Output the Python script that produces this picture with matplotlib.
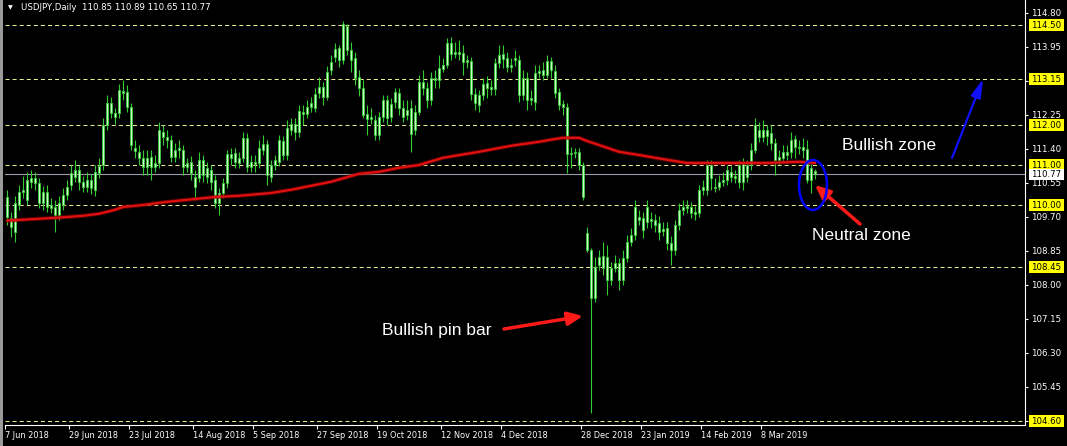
import numpy as np
import matplotlib
matplotlib.use('Agg')
import matplotlib.pyplot as plt
from matplotlib.patches import Rectangle, Ellipse
import matplotlib.transforms as mtransforms

plt.rcParams['lines.scale_dashes'] = False

# USDJPY daily candles, bar 0 = 7 Jun 2018
opens = [110.20, 109.68, 109.33, 110.00, 110.33, 110.13, 110.58, 110.68, 110.55, 110.05,
         110.33, 110.00, 109.95, 109.75, 110.00, 110.25, 110.50, 110.70, 110.88, 110.58,
         110.45, 110.63, 110.38, 110.80, 111.00, 112.00, 112.55, 112.30, 112.30, 112.85,
         112.83, 112.45, 111.43, 111.33, 111.18, 110.95, 111.20, 110.95, 111.05, 111.83,
         111.70, 111.63, 111.20, 111.38, 111.38, 110.95, 111.08, 110.70, 110.68, 111.13,
         110.93, 110.88, 110.63, 110.05, 110.30, 110.55, 111.28, 111.30, 111.05, 111.18,
         111.68, 110.95, 111.08, 111.05, 111.38, 111.53, 110.70, 111.00, 111.08, 111.60,
         111.25, 111.88, 112.03, 111.83, 112.33, 112.28, 112.45, 112.43, 112.80, 112.95,
         112.70, 113.38, 113.70, 113.93, 113.63, 114.48, 113.88, 113.68, 113.20, 112.93,
         112.28, 112.15, 112.13, 111.75, 112.20, 112.63, 112.20, 112.58, 112.80, 112.43,
         112.25, 112.43, 111.88, 112.33, 113.08, 112.93, 112.63, 113.18, 113.13, 113.40,
         113.50, 114.05, 113.78, 113.83, 113.80, 113.58, 113.60, 112.78, 112.50, 112.75,
         113.05, 112.95, 112.90, 113.55, 113.78, 113.68, 113.45, 113.63, 113.63, 112.75,
         113.18, 112.63, 112.58, 113.30, 113.38, 113.25, 113.60, 113.35, 112.83, 112.53,
         112.45, 111.28, 111.30, 111.33, 111.00, 109.30, 108.88, 107.68, 108.50, 108.73,
         108.70, 108.13, 108.43, 108.55, 108.13, 108.68, 109.08, 109.25, 109.70, 109.68,
         109.58, 109.65, 109.63, 109.55, 109.35, 109.43, 109.05, 108.88, 109.50, 109.88,
         109.93, 109.95, 109.78, 109.80, 110.38, 110.38, 111.00, 110.45, 110.45, 110.58,
         110.63, 110.83, 110.73, 110.58, 111.05, 110.70, 111.00, 111.38, 111.88, 111.70,
         111.88, 111.80, 111.55, 111.13, 111.18, 111.33, 111.33, 111.65, 111.45, 111.45,
         111.40, 110.63, 110.85]
highs = [110.38, 109.83, 110.23, 110.50, 110.73, 110.83, 110.88, 110.83, 110.68, 110.48,
         110.50, 110.18, 110.13, 110.23, 110.43, 110.63, 111.00, 111.13, 111.00, 110.73,
         110.83, 110.78, 111.00, 111.18, 112.18, 112.75, 112.70, 112.43, 113.03, 113.13,
         113.00, 112.55, 111.63, 111.50, 111.38, 111.38, 111.38, 111.25, 112.08, 112.00,
         111.88, 111.75, 111.55, 111.63, 111.50, 111.18, 111.23, 110.88, 111.33, 111.25,
         111.08, 111.00, 110.75, 110.43, 110.68, 111.38, 111.43, 111.43, 111.33, 111.83,
         111.80, 111.25, 111.25, 111.63, 111.75, 111.63, 111.13, 111.25, 111.75, 111.73,
         112.13, 112.18, 112.18, 112.50, 112.50, 112.63, 112.70, 112.93, 113.20, 113.08,
         113.48, 113.75, 114.05, 114.00, 114.60, 114.52, 114.08, 113.83, 113.38, 113.13,
         112.50, 112.43, 112.25, 112.33, 112.75, 112.75, 112.68, 112.93, 112.93, 112.63,
         112.63, 112.63, 112.50, 113.25, 113.38, 113.08, 113.33, 113.38, 113.75, 113.68,
         114.18, 114.20, 114.08, 114.13, 114.00, 113.75, 113.70, 112.93, 112.88, 113.18,
         113.23, 113.13, 113.68, 114.00, 114.00, 113.83, 113.68, 113.88, 113.75, 113.38,
         113.33, 112.88, 113.50, 113.50, 113.58, 113.75, 113.70, 113.50, 112.93, 112.63,
         112.55, 111.45, 111.43, 111.43, 111.08, 109.45, 108.93, 108.70, 108.88, 109.08,
         109.00, 108.58, 108.75, 108.68, 108.88, 109.25, 109.43, 110.13, 109.88, 109.83,
         110.13, 109.83, 109.78, 109.73, 109.58, 109.58, 109.23, 109.63, 110.05, 110.13,
         110.13, 110.08, 109.98, 110.50, 110.63, 111.13, 111.13, 110.68, 110.75, 110.83,
         111.00, 110.98, 110.88, 111.13, 111.18, 111.13, 111.55, 112.18, 112.08, 112.13,
         112.00, 112.00, 111.68, 111.38, 111.50, 111.50, 111.83, 111.75, 111.63, 111.68,
         111.63, 111.05, 110.89]
lows = [109.50, 109.20, 109.08, 109.88, 110.18, 110.00, 110.43, 110.38, 109.93, 109.88,
        109.83, 109.80, 109.33, 109.63, 109.88, 110.13, 110.38, 110.58, 110.38, 110.33,
        110.33, 110.28, 110.23, 110.68, 110.88, 111.88, 112.18, 112.03, 112.18, 112.63,
        112.33, 111.38, 111.18, 111.00, 110.75, 110.75, 110.63, 110.83, 110.93, 111.50,
        111.43, 111.08, 111.08, 111.18, 110.75, 110.83, 110.63, 110.13, 110.58, 110.58,
        110.55, 110.38, 109.93, 109.75, 110.18, 110.43, 111.00, 110.93, 110.93, 111.08,
        110.83, 110.83, 110.83, 110.93, 111.25, 110.50, 110.58, 110.88, 110.98, 111.13,
        111.13, 111.75, 111.63, 111.70, 112.00, 112.18, 112.33, 112.33, 112.68, 112.50,
        112.63, 113.25, 113.58, 113.45, 113.53, 113.75, 113.33, 113.00, 112.73, 112.18,
        111.75, 112.03, 111.63, 111.63, 112.08, 112.00, 112.08, 112.43, 112.25, 112.08,
        112.13, 111.33, 111.75, 112.25, 112.75, 112.43, 112.50, 112.93, 112.93, 113.33,
        113.43, 113.63, 113.68, 113.63, 113.25, 113.43, 112.63, 112.38, 112.33, 112.63,
        112.68, 112.75, 112.75, 113.43, 113.43, 113.33, 113.33, 113.48, 112.58, 112.63,
        112.38, 112.50, 112.38, 113.18, 113.13, 113.18, 113.18, 112.68, 112.38, 112.25,
        110.80, 110.93, 111.18, 110.88, 110.13, 108.83, 104.80, 107.58, 108.38, 108.25,
        107.75, 108.00, 108.33, 107.88, 108.00, 108.58, 108.98, 109.13, 109.50, 109.18,
        109.43, 109.43, 109.33, 109.13, 109.23, 108.88, 108.50, 108.75, 109.38, 109.75,
        109.80, 109.68, 109.63, 109.70, 110.25, 110.25, 110.38, 110.33, 110.38, 110.48,
        110.50, 110.58, 110.55, 110.43, 110.38, 110.58, 110.88, 111.30, 111.58, 111.58,
        111.50, 111.38, 110.75, 111.00, 111.08, 111.13, 111.18, 111.18, 111.28, 111.18,
        110.55, 110.30, 110.65]
closes = [109.70, 109.45, 110.05, 110.33, 110.38, 110.63, 110.68, 110.55, 110.05, 110.33,
          109.95, 109.93, 109.75, 110.05, 110.25, 110.45, 110.80, 110.88, 110.58, 110.45,
          110.63, 110.43, 110.83, 110.98, 112.00, 112.55, 112.30, 112.20, 112.88, 112.80,
          112.45, 111.50, 111.35, 111.18, 110.95, 111.18, 110.95, 111.05, 111.88, 111.70,
          111.63, 111.20, 111.38, 111.43, 110.95, 111.05, 110.80, 110.45, 111.13, 110.75,
          110.70, 110.58, 110.05, 110.30, 110.55, 111.28, 111.18, 111.08, 111.18, 111.68,
          110.95, 111.08, 111.03, 111.43, 111.53, 110.75, 111.00, 111.13, 111.63, 111.25,
          111.93, 112.03, 111.83, 112.35, 112.28, 112.45, 112.55, 112.78, 112.95, 112.70,
          113.33, 113.58, 113.90, 113.63, 114.53, 113.88, 113.63, 113.18, 112.93, 112.25,
          112.15, 112.20, 111.75, 112.20, 112.63, 112.18, 112.53, 112.83, 112.43, 112.20,
          112.38, 111.78, 112.33, 113.08, 112.93, 112.63, 113.18, 113.13, 113.43, 113.50,
          114.05, 113.78, 113.83, 113.78, 113.58, 113.63, 112.78, 112.55, 112.75, 113.03,
          112.93, 112.90, 113.55, 113.75, 113.65, 113.45, 113.50, 113.68, 112.75, 113.18,
          112.63, 112.68, 113.30, 113.35, 113.25, 113.60, 113.38, 112.80, 112.50, 112.45,
          111.28, 111.30, 111.33, 111.00, 110.20, 108.88, 107.68, 108.45, 108.70, 108.43,
          108.13, 108.43, 108.55, 108.13, 108.68, 109.08, 109.25, 109.95, 109.63, 109.38,
          109.95, 109.60, 109.50, 109.33, 109.40, 109.05, 108.88, 109.50, 109.88, 109.95,
          109.98, 109.80, 109.83, 110.38, 110.45, 111.00, 110.68, 110.43, 110.58, 110.63,
          110.88, 110.70, 110.68, 111.00, 110.58, 111.00, 111.38, 112.00, 111.70, 111.88,
          111.73, 111.55, 111.13, 111.20, 111.33, 111.25, 111.63, 111.45, 111.43, 111.38,
          110.63, 110.93, 110.77]

# moving average (red line), vertices
ma_bar = [0, 7, 12, 15, 19, 23, 27, 29, 34, 40, 45, 52, 58, 66, 71, 76, 81, 88, 93,
          98, 103, 109, 118, 126, 133, 137, 139, 143, 145, 148, 153, 158, 165, 170,
          175, 190, 198, 202]
ma_val = [109.61, 109.65, 109.68, 109.70, 109.73, 109.78, 109.88, 109.95, 110.00,
          110.08, 110.13, 110.20, 110.23, 110.30, 110.38, 110.48, 110.58, 110.78,
          110.83, 110.93, 111.00, 111.18, 111.33, 111.48, 111.58, 111.65, 111.68,
          111.68, 111.60, 111.50, 111.33, 111.25, 111.13, 111.05, 111.05, 111.05,
          111.08, 111.05]

levels = [114.50, 113.15, 112.00, 111.00, 110.00, 108.45, 104.60]
bid = 110.77
price_ticks = [114.80, 113.95, 113.10, 112.25, 111.40, 110.55, 109.70, 108.85,
               108.00, 107.15, 106.30, 105.45, 104.60]
date_bars = [0, 16, 31, 47, 62, 78, 93, 109, 124, 144, 159, 174, 189]
date_labels = ['7 Jun 2018', '29 Jun 2018', '23 Jul 2018', '14 Aug 2018', '5 Sep 2018',
               '27 Sep 2018', '19 Oct 2018', '12 Nov 2018', '4 Dec 2018', '28 Dec 2018',
               '23 Jan 2019', '14 Feb 2019', '8 Mar 2019']

W, H = 1067, 446
fig = plt.figure(figsize=(W/100, H/100), dpi=100, facecolor='black')
ax = fig.add_axes([5/W, 21/H, 1020/W, 425/H])
ax.set_facecolor('black')
ax.set_xlim(-0.5, 254.5)
ax.set_ylim(104.5, 115.125)

# pixel -> data helpers for the hand drawn objects
def bx(px):
    return (px - 7) / 4.0
def pr(py):
    return 115.125 - py / 40.0

dash_col = '#ecec8a'
for lv in levels:
    ax.axhline(lv, color=dash_col, lw=0.75, dashes=(2.9, 2.2), zorder=1)
ax.axhline(bid, color='#9a9aa8', lw=0.8, zorder=1)

# candles
x = np.arange(len(closes))
o = np.array(opens)
c = np.array(closes)
ax.vlines(x, lows, highs, color='#33cc33', lw=0.8, zorder=2)
body = np.maximum(np.abs(c - o), 0.01)
ax.bar(x, body, bottom=np.minimum(o, c), width=0.55, color='#ccf7cc',
       edgecolor='#33cc33', linewidth=0.6, zorder=3)

# moving average
ax.plot(ma_bar, ma_val, color='#8b0000', lw=3.0, alpha=0.6, zorder=4, solid_capstyle='butt')
ax.plot(ma_bar, ma_val, color='#e01010', lw=1.6, zorder=4)

# axes styling
for s in ['left', 'top']:
    ax.spines[s].set_visible(False)
for s in ['right', 'bottom']:
    ax.spines[s].set_color('white')
    ax.spines[s].set_linewidth(0.8)
ax.yaxis.tick_right()
ax.set_yticks(price_ticks)
# 113.10 sits under the 113.15 level box, so it is not printed
ax.set_yticklabels(['' if v == 113.10 else '%.2f' % v for v in price_ticks])
ax.tick_params(axis='y', colors='white', length=2.5, width=0.8, pad=2,
               labelsize=6.2, labelcolor='white')
ax.set_xticks([b - 0.4 for b in date_bars])
ax.set_xticklabels(date_labels)
ax.tick_params(axis='x', colors='white', length=3, width=0.8, pad=1.5,
               labelsize=5.9, labelcolor='white')
for lab in ax.get_xticklabels():
    lab.set_ha('left')

# price labels on the scale
trans = mtransforms.blended_transform_factory(ax.transAxes, ax.transData)
box_x = (1029 - 5) / 1020.0
box_w = 35 / 1020.0
for lv in levels + [bid]:
    fc = 'white' if lv == bid else '#ffff00'
    ax.add_patch(Rectangle((box_x, lv - 0.14), box_w, 0.28, transform=trans,
                           facecolor=fc, edgecolor='none', clip_on=False, zorder=6))
    ax.text((1031 - 5) / 1020.0, lv, '%.2f' % lv, transform=trans, ha='left',
            va='center', fontsize=6.2, color='black', zorder=7, clip_on=False)

# header
ax.text(bx(8), pr(8), '\u25bc', color='white', fontsize=4.5, va='center', ha='left')
ax.text(bx(21), pr(8), 'USDJPY,Daily  110.85 110.89 110.65 110.77', color='white',
        fontsize=6.2, va='center', ha='left')

# annotations
tf = dict(color='white', fontsize=12.5, family='Liberation Sans', va='center', ha='left')
ax.text(bx(382), pr(331), 'Bullish pin bar', **tf)
ax.text(bx(842), pr(146), 'Bullish zone', **tf)
ax.text(bx(812), pr(236), 'Neutral zone', **tf)

red = dict(arrowstyle='-|>,head_length=0.9,head_width=0.4', color='#ff1a1a', lw=2.5,
           shrinkA=0, shrinkB=0)
ax.annotate('', xy=(bx(583), pr(316)), xytext=(bx(504), pr(329)), arrowprops=red, zorder=5)
ax.annotate('', xy=(bx(815), pr(185)), xytext=(bx(860), pr(224)), arrowprops=red, zorder=5)
blue = dict(arrowstyle='-|>,head_length=1.1,head_width=0.3', color='#1010ff', lw=1.6,
            shrinkA=0, shrinkB=0)
ax.annotate('', xy=(bx(983), pr(79)), xytext=(bx(952), pr(158)), arrowprops=blue, zorder=5)

ax.add_patch(Ellipse((bx(813), pr(185)), 7.0, 1.25, facecolor='none',
                     edgecolor='#0000ff', lw=1.8, zorder=5))

# window border on the left
fig.patches.append(Rectangle((0, 0), 3/W, 1, transform=fig.transFigure,
                             facecolor='#9a9a9a', edgecolor='none'))

plt.savefig('out.png', dpi=100, facecolor='black')
